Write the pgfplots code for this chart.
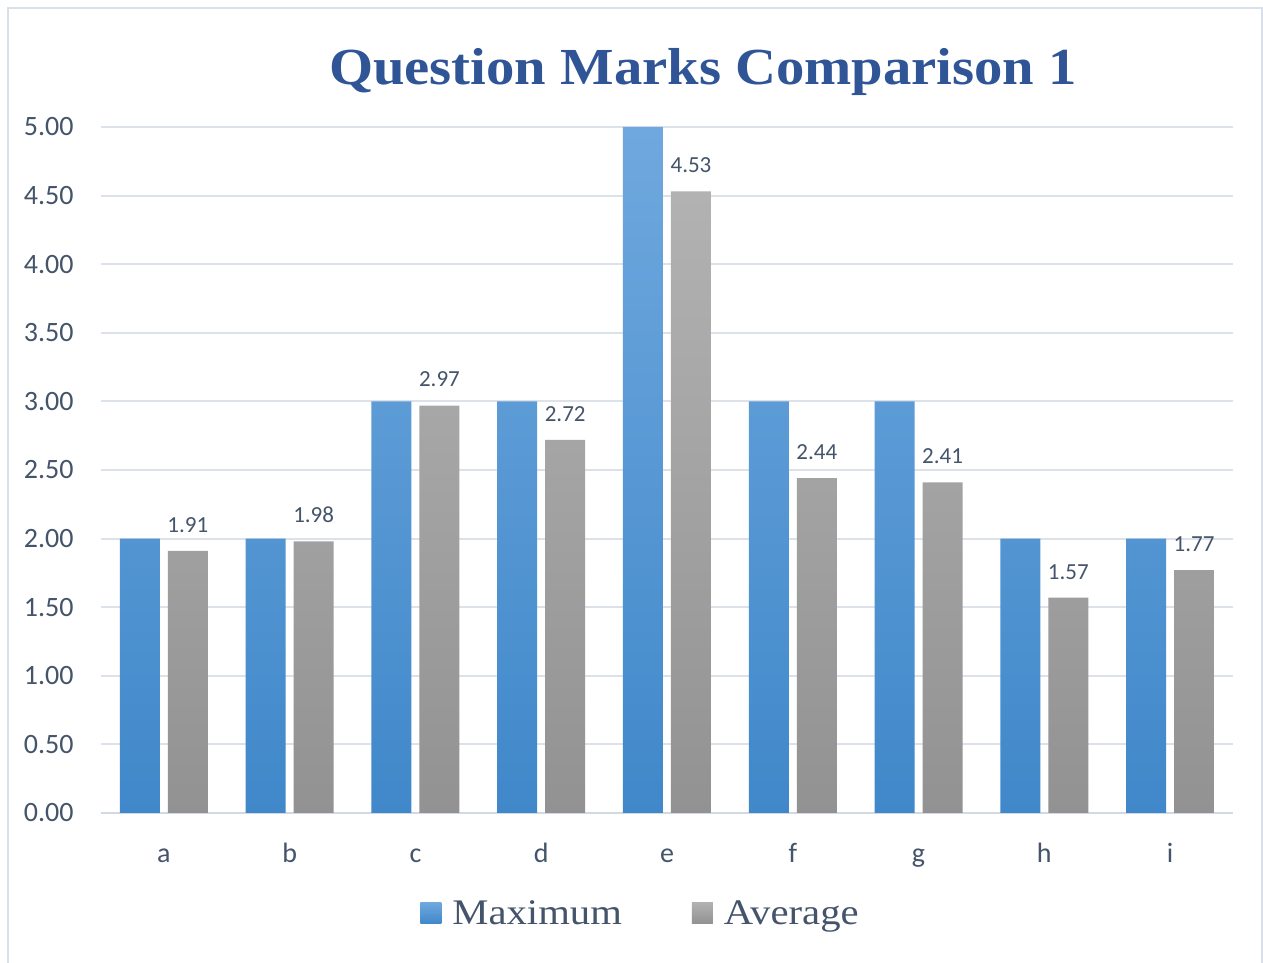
\documentclass[border=0pt]{standalone}
\usepackage{pgfplots}
\pgfplotsset{compat=1.18}
\usepackage{fontspec}
\setmainfont{Carlito}
\newfontfamily\titlefont[FakeStretch=1.09]{Liberation Serif}
\newfontfamily\legfont[FakeStretch=1.13]{Liberation Serif}
\definecolor{blueTop}{HTML}{6FA8DE}
\definecolor{blueBot}{HTML}{4088CA}
\definecolor{grayTop}{HTML}{B2B2B2}
\definecolor{grayBot}{HTML}{929292}
\definecolor{txt}{HTML}{44546A}
\definecolor{ttl}{HTML}{2F5597}
\definecolor{gridc}{HTML}{DDE2EA}
\definecolor{axisc}{HTML}{D3D9E2}
\definecolor{framec}{HTML}{DAE0EA}
\begin{document}
\begin{tikzpicture}
\useasboundingbox (0,0) rectangle (631.5pt,481.5pt);
\fill[white] (0,0) rectangle (631.5pt,481.5pt);
\draw[framec, line width=1pt] (3.75pt,-1pt) -- (3.75pt,477.5pt) -- (630.75pt,477.5pt) -- (630.75pt,-1pt);
\node[anchor=base, inner sep=0pt, text=ttl, font=\titlefont\bfseries\fontsize{26}{30}\selectfont] at (351.5pt,439pt) {Question Marks Comparison 1};
\begin{axis}[
  at={(50.5pt,75pt)}, anchor=south west,
  scale only axis, width=566pt, height=343pt,
  ybar=4pt, bar width=20pt,
  xmin=-0.5, xmax=8.5, ymin=0, ymax=5,
  xtick={0,...,8}, xticklabels={a,b,c,d,e,f,g,h,i},
  ytick={0,0.5,...,5},
  major tick length=0pt,
  axis x line*=bottom, axis y line*=left,
  x axis line style={-, draw=axisc, line width=1pt},
  y axis line style={draw=none},
  ymajorgrids, grid style={gridc, line width=1pt},
  /pgf/number format/assume math mode=true,
  yticklabel={\pgfmathprintnumber[fixed,fixed zerofill,precision=2]{\tick}},
  yticklabel style={anchor=east, inner sep=0pt, xshift=-13.5pt, text=txt, font=\fontsize{14}{16}\selectfont},
  xticklabel style={anchor=base, inner sep=0pt, yshift=-25pt, text=txt, font=\fontsize{14}{16}\selectfont},
  legend columns=2,
  legend style={at={(0.2818,-0.148)}, anchor=west, draw=none, fill=none, inner sep=0pt,
    nodes={inner sep=0pt, text=txt, font=\legfont\fontsize{18}{20}\selectfont},
    /tikz/every odd column/.append style={column sep=5.5pt},
    /tikz/every even column/.append style={column sep=35pt}},
  legend image code/.code={\path[#1] (0pt,-4.5pt) rectangle (10.5pt,6pt);},
]
\addplot[draw=none, top color=blueTop, bottom color=blueBot] coordinates {(0,2) (1,2) (2,3) (3,3) (4,5) (5,3) (6,3) (7,2) (8,2)};
\addlegendentry{Maximum}
\addplot[draw=none, top color=grayTop, bottom color=grayBot,
  nodes near coords={\pgfmathprintnumber[fixed,fixed zerofill,precision=2]{\pgfplotspointmeta}},
  every node near coord/.append style={anchor=south, inner sep=0pt, yshift=9pt, text=txt, font=\fontsize{11.5}{13}\selectfont}]
  coordinates {(0,1.91) (1,1.98) (2,2.97) (3,2.72) (4,4.53) (5,2.44) (6,2.41) (7,1.57) (8,1.77)};
\addlegendentry{Average}
\end{axis}
\end{tikzpicture}
\end{document}
